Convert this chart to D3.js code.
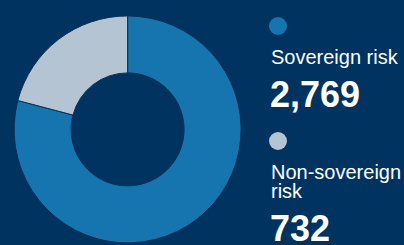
<!DOCTYPE html>
<html>
<head>
<meta charset="utf-8">
<script src="https://cdn.jsdelivr.net/npm/d3@7"></script>
<style>
  html, body { margin: 0; padding: 0; background: #003360; overflow: hidden; }
</style>
</head>
<body>
<script>
const labels = [["Sovereign risk"], ["Non-sovereign", "risk"]];
const values = [2769, 732];
const colors = ["#1675ae", "#b5c4d2"];

const width = 404, height = 245;
const cx = 127.6, cy = 129.4, outerR = 113.5, innerR = 56.5;
const lineGap = 18.5;

const svg = d3.select("body").append("svg")
    .attr("width", width)
    .attr("height", height)
    .style("display", "block")
    .style("font-family", "'Liberation Sans', Arial, sans-serif");

svg.append("rect")
    .attr("width", width)
    .attr("height", height)
    .attr("fill", "#003360");

const pie = d3.pie().sort(null).value(d => d);
const arc = d3.arc().innerRadius(innerR).outerRadius(outerR);

svg.append("g")
    .attr("transform", `translate(${cx},${cy})`)
  .selectAll("path")
  .data(pie(values))
  .enter().append("path")
    .attr("d", arc)
    .attr("fill", (d, i) => colors[i])
    .attr("stroke", "#0b2f55")
    .attr("stroke-width", 1);

const fmt = d3.format(",");
const y = d3.scalePoint().domain(d3.range(values.length)).range([26, 141]);

const item = svg.selectAll("g.item")
  .data(values)
  .enter().append("g")
    .attr("class", "item")
    .attr("transform", (d, i) => `translate(278,${y(i)})`);

item.append("circle")
    .attr("r", 9)
    .attr("fill", (d, i) => colors[i]);

item.append("text")
    .attr("x", -7)
    .attr("y", 38)
    .attr("fill", "#fff")
    .style("font-size", "20px")
  .selectAll("tspan")
  .data((d, i) => labels[i])
  .enter().append("tspan")
    .attr("x", -7)
    .attr("dy", (d, j) => j ? lineGap : 0)
    .text(d => d);

item.append("text")
    .attr("x", -8)
    .attr("y", (d, i) => 81 + (labels[i].length - 1) * lineGap)
    .attr("fill", "#fff")
    .style("font-size", "36px")
    .style("font-weight", "bold")
    .text(d => fmt(d));
</script>
</body>
</html>
